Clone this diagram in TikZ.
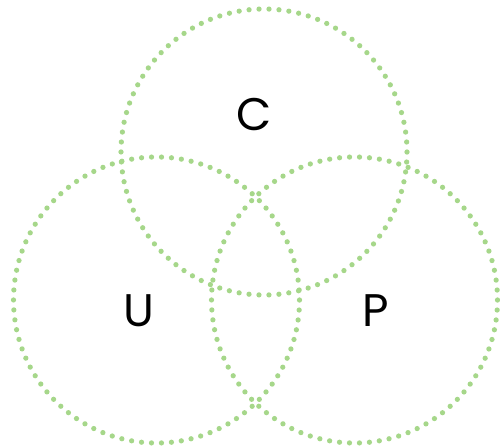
\documentclass[tikz,border=0pt]{standalone}
\usepackage{fontspec}
\setmainfont{Poppins}
\usepackage{tikz}

\definecolor{dotgreen}{HTML}{A6D78A}

\tikzset{
  dotring/.style={dotgreen, line width=0.105cm, line cap=round,
    dash pattern=on 0pt off 0.19968cm},
  setname/.style={font=\fontsize{26}{28}\selectfont, text=black}
}

\begin{document}
\begin{tikzpicture}
    % page size (500 x 448 px, 1px = 0.02cm)
    \useasboundingbox (0, 0) rectangle (10, 8.96);

    % centres of the three sets
    \coordinate (cC) at (5.28, 5.92);
    \coordinate (cU) at (3.13, 2.96);
    \coordinate (cP) at (7.09, 2.96);

    % dotted circles
    \draw[dotring] (cC) circle (2.86);
    \draw[dotring] (cU) circle (2.86);
    \draw[dotring] (cP) circle (2.86);

    % labels
    \node[setname] (labC) at (5.08, 6.66) {C};
    \node[setname] (labU) at (2.78, 2.74) {U};
    \node[setname] (labP) at (7.52, 2.74) {P};
\end{tikzpicture}
\end{document}
